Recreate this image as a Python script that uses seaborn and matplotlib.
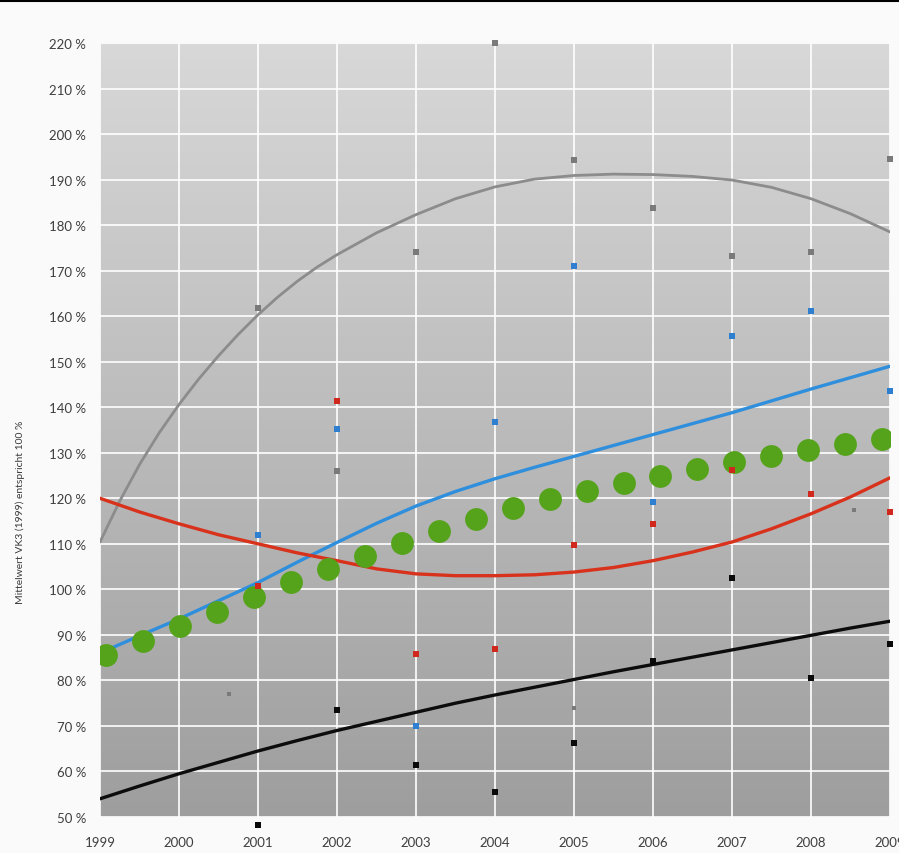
import numpy as np
import pandas as pd
import matplotlib
matplotlib.use("Agg")
import matplotlib.pyplot as plt
from matplotlib.colors import LinearSegmentedColormap
from matplotlib.lines import Line2D
import seaborn as sns

# trend curves at half-year steps
curve_years = [1999, 1999.5, 2000, 2000.5, 2001, 2001.5, 2002, 2002.5, 2003, 2003.5, 2004,
               2004.5, 2005, 2005.5, 2006, 2006.5, 2007, 2007.5, 2008, 2008.5, 2009]
blue_curve = [86, 89.8, 93.5, 97.5, 101.5, 106, 110.3, 114.5, 118.3, 121.5, 124.3,
              126.8, 129.2, 131.6, 134, 136.4, 138.8, 141.4, 144, 146.5, 149]
red_curve = [120, 117, 114.4, 112, 110, 108, 106.3, 104.5, 103.4, 103, 103,
             103.2, 103.8, 104.8, 106.3, 108.2, 110.4, 113.3, 116.6, 120.3, 124.5]
black_curve = [54, 56.8, 59.5, 62, 64.5, 66.8, 69, 71, 73, 75, 76.8,
               78.5, 80.2, 81.9, 83.5, 85.1, 86.7, 88.3, 89.9, 91.5, 93]

# gray curve is steep at the start, so it is read more finely there
gray_years = [1999, 1999.25, 1999.5, 1999.75, 2000, 2000.25, 2000.5, 2000.75, 2001,
              2001.25, 2001.5, 2001.75, 2002, 2002.5, 2003, 2003.5, 2004, 2004.5, 2005,
              2005.5, 2006, 2006.5, 2007, 2007.5, 2008, 2008.5, 2009]
gray_curve = [110.4, 119.4, 127.4, 134.4, 140.6, 146.2, 151.3, 156.0, 160.3,
              164.2, 167.7, 170.8, 173.5, 178.3, 182.3, 185.8, 188.4, 190.1, 190.9,
              191.2, 191.1, 190.7, 189.9, 188.3, 185.8, 182.5, 178.5]

# green dotted series
green_x = np.linspace(1999.08, 2008.9, 22)
green_vals = [85.5, 88.7, 92, 95, 98.4, 101.6, 104.5, 107.4, 110.2, 112.9, 115.5,
              117.9, 119.9, 121.6, 123.4, 124.9, 126.5, 128, 129.3, 130.7, 132, 133]

# yearly measurements
point_years = [2001, 2002, 2003, 2004, 2005, 2006, 2007, 2008, 2009]
blue_pts = [112, 135.3, 70, 136.8, 171, 119.2, 155.7, 161.2, 143.5]
red_pts = [100.8, 141.4, 85.8, 86.8, 109.8, 114.3, 126.2, 121, 117]
black_pts = [48.3, 73.6, 61.5, 55.5, 66.2, 84.2, 102.5, 80.6, 88]
gray_pts = [161.8, 126, 174.2, 220, 194.2, 183.8, 173.2, 174, 194.6]
gray_extra_x = [2000.63, 2005, 2008.55]
gray_extra_y = [77, 74, 117.5]

y_ticks = list(range(50, 230, 10))
x_ticks = list(range(1999, 2010))

sns.set_theme(style="white")
plt.rcParams["font.family"] = ["Lato", "DejaVu Sans"]

fig = plt.figure(figsize=(8.99, 8.54), dpi=100)
fig.patch.set_facecolor("#fbfafa")
ax = fig.add_axes([100 / 899, 36 / 854, 790 / 899, 774 / 854])

# gray gradient background of the plot area
cmap = LinearSegmentedColormap.from_list("bg", ["#9e9e9e", "#d8d8d8"])
grad = np.linspace(0, 1, 256).reshape(-1, 1)
ax.imshow(grad, extent=[1999, 2009, 50, 220], origin="lower", aspect="auto",
          cmap=cmap, zorder=0)

ax.set_xlim(1999, 2009)
ax.set_ylim(50, 220)
ax.set_xticks(x_ticks)
ax.set_yticks(y_ticks)
ax.set_yticklabels([f"{v} %" for v in y_ticks])
ax.grid(True, color="white", linewidth=1.2, zorder=1)
ax.set_axisbelow(False)
for sp in ax.spines.values():
    sp.set_visible(False)
ax.tick_params(length=0, labelsize=9.5, labelcolor="#3e3e3e")
ax.tick_params(axis="y", pad=10)
ax.tick_params(axis="x", pad=14)

curves = pd.DataFrame({"year": curve_years, "blue": blue_curve,
                       "red": red_curve, "black": black_curve})
sns.lineplot(x=gray_years, y=gray_curve, color="#8c8c8c", linewidth=2.0, ax=ax, zorder=3)
sns.lineplot(data=curves, x="year", y="blue", color="#2f8fdc", linewidth=2.4, ax=ax, zorder=4)
sns.lineplot(data=curves, x="year", y="red", color="#d8321c", linewidth=2.4, ax=ax, zorder=4)
sns.lineplot(data=curves, x="year", y="black", color="#0c0c0c", linewidth=2.4, ax=ax, zorder=4)

sns.scatterplot(x=green_x, y=green_vals, color="#55a31a", s=270, linewidth=0, ax=ax, zorder=5)

pt_kw = dict(marker="s", s=16, linewidth=0, ax=ax, zorder=6, clip_on=False)
sns.scatterplot(x=point_years, y=gray_pts, color="#7a7a7a", **pt_kw)
sns.scatterplot(x=gray_extra_x, y=gray_extra_y, color="#7a7a7a", marker="s", s=8,
                linewidth=0, ax=ax, zorder=6)
sns.scatterplot(x=point_years, y=blue_pts, color="#2e7fd0", **pt_kw)
sns.scatterplot(x=point_years, y=red_pts, color="#d0281c", **pt_kw)
sns.scatterplot(x=point_years, y=black_pts, color="#0a0a0a", **pt_kw)

ax.set_xlabel("")
ax.set_ylabel("")
fig.text(0.023, (854 - 512) / 854, "Mittelwert VK3 (1999) entspricht 100 %",
         rotation=90, ha="center", va="center", fontsize=7.5, color="#3a3a3a")

# scan border at the top
fig.add_artist(Line2D([0, 1], [0.998, 0.998], color="black", linewidth=1.5))

fig.savefig("out.png", dpi=100)
